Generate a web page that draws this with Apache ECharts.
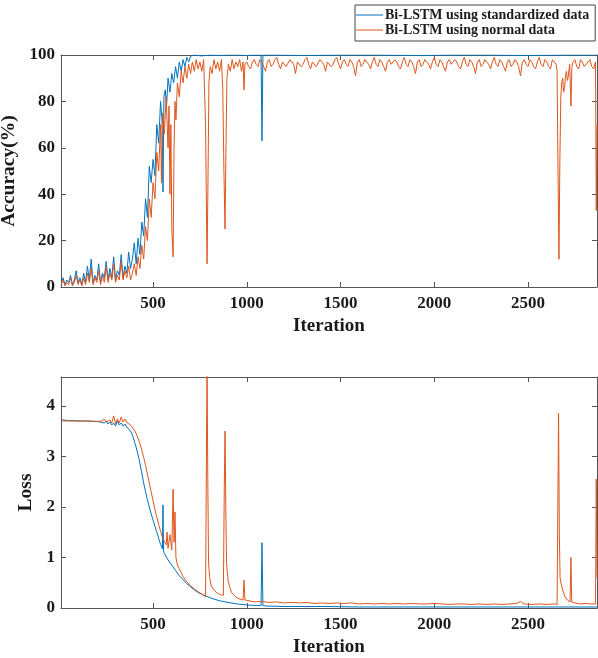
<!DOCTYPE html>
<html>
<head>
<meta charset="utf-8">
<script src="https://cdn.jsdelivr.net/npm/echarts@6/dist/echarts.min.js"></script>
<style>html,body{margin:0;padding:0;background:#fff;}#chart{width:598px;height:658px;}</style>
</head>
<body>
<div id="chart"></div>
<script>
// iteration ticks
var xTicks = [500, 1000, 1500, 2000, 2500];
var seriesNames = ['Bi-LSTM using standardized data', 'Bi-LSTM using normal data'];

// accuracy (%) - standardized data  [iteration, value]
var accStd = [
 [10,2],[20,4],[30,1],[40,3],[50,2],[60,5],[70,1],[80,3],[90,7],[100,2],[110,4],[120,1],[130,6],[140,2],[150,9],[160,3],[170,12],[180,2],[190,5],[200,3],
 [210,10],[220,2],[230,6],[240,4],[250,11],[260,3],[270,8],[280,4],[290,13],[300,3],[310,7],[320,5],[330,14],[340,4],[350,9],[360,6],[370,15],[380,8],[390,12],[400,19],
 [410,10],[420,21],[430,14],[440,28],[450,22],[460,38],[470,30],[480,52],[490,45],[500,55],[510,48],[520,70],[530,62],[540,80],[548,72],[553,41],[558,82],[565,85],[572,78],[580,90],
 [590,84],[600,92],[610,88],[620,95],[630,90],[640,97],[650,93],[660,98],[670,95],[680,99],[690,97],[700,99.5],[720,100],[760,99.6],[800,100],[850,99.8],[900,100],[950,100],[1000,99.8],[1050,100],
 [1076,100],[1081,63],[1086,100],[1150,100],[1300,99.8],[1500,100],[1700,100],[1900,99.8],[2100,100],[2300,100],[2500,99.8],[2700,100],[2868,100]
];
// accuracy (%) - normal data
var accNorm = [
 [10,1],[20,3],[30,0.5],[40,2],[50,1],[60,4],[70,0.5],[80,2],[90,5],[100,1],[110,3],[120,0.5],[130,4],[140,1],[150,6],[160,2],[170,8],[180,1],[190,4],[200,2],
 [210,7],[220,1],[230,5],[240,2],[250,9],[260,2],[270,6],[280,3],[290,10],[300,2],[310,5],[320,3],[330,11],[340,3],[350,7],[360,4],[370,9],[380,3],[390,6],[400,10],
 [410,5],[420,13],[430,8],[440,18],[450,12],[460,26],[470,20],[480,38],[490,30],[500,45],[510,38],[520,58],[530,50],[540,70],[545,45],[550,75],[560,66],[570,82],[580,60],[585,78],
 [590,40],[595,70],[600,25],[607,13],[612,60],[617,80],[622,72],[630,88],[640,82],[650,93],[660,88],[670,95],[680,90],[690,96],[700,92],[710,97],[720,93],[730,98],[740,94],[750,97],
 [760,93],[770,98],[780,70],[788,10],[793,45],[798,88],[805,95],[815,92],[825,98],[835,94],[845,97],[855,93],[865,98],[872,85],[878,50],[884,25],[889,60],[894,90],[902,96],[912,93],
 [922,98],[932,94],[942,97],[952,95],[962,98],[972,93],[980,97],[985,85],[990,96],[1000,97],[1010,95],[1020,94],[1030,97],[1040,98],[1050,96],[1060,95],[1070,98],[1080,97],[1090,95],[1100,93],
 [1110,97],[1120,98],[1130,95],[1140,96],[1150,98],[1160,99],[1170,96],[1180,94],[1190,97],[1200,97],[1210,95],[1220,95],[1230,98],[1240,98],[1250,96],[1260,92],[1270,97],[1280,97],[1290,95],[1300,96],
 [1310,98],[1320,99],[1330,96],[1340,94],[1350,97],[1360,97],[1370,95],[1380,95],[1390,98],[1400,98],[1410,96],[1420,93],[1430,97],[1440,97],[1450,95],[1460,96],[1470,98],[1480,99],[1490,96],[1500,94],
 [1510,97],[1520,98],[1530,96],[1540,95],[1550,98],[1560,97],[1570,95],[1580,91],[1590,97],[1600,98],[1610,95],[1620,96],[1630,98],[1640,97],[1650,96],[1660,94],[1670,97],[1680,99],[1690,96],[1700,95],
 [1710,98],[1720,97],[1730,95],[1740,93],[1750,97],[1760,98],[1770,96],[1780,96],[1790,98],[1800,97],[1810,95],[1820,94],[1830,97],[1840,99],[1850,96],[1860,95],[1870,98],[1880,97],[1890,95],[1900,92],
 [1910,97],[1920,98],[1930,95],[1940,96],[1950,98],[1960,97],[1970,96],[1980,94],[1990,97],[2000,99],[2010,96],[2020,95],[2030,98],[2040,97],[2050,95],[2060,93],[2070,97],[2080,98],[2090,96],[2100,96],
 [2110,98],[2120,97],[2130,95],[2140,94],[2150,97],[2160,99],[2170,96],[2180,95],[2190,98],[2200,97],[2210,95],[2220,92],[2230,97],[2240,98],[2250,95],[2260,96],[2270,98],[2280,97],[2290,96],[2300,94],
 [2310,97],[2320,99],[2330,96],[2340,95],[2350,98],[2360,97],[2370,95],[2380,93],[2390,97],[2400,98],[2410,95],[2420,96],[2430,98],[2440,97],[2450,95],[2460,91],[2470,97],[2480,98],[2490,96],[2500,95],
 [2510,98],[2520,97],[2530,95],[2540,94],[2550,97],[2560,99],[2570,96],[2580,95],[2590,98],[2600,97],[2610,95],[2620,94],[2630,98],[2640,97],[2650,96],[2655,93],[2660,50],[2665,12],[2670,55],[2675,82],
 [2680,88],[2685,90],[2690,84],[2695,86],[2700,91],[2705,93],[2710,89],[2715,91],[2722,96],[2729,78],[2734,95],[2740,97],[2750,98],[2760,95],[2770,94],[2780,98],[2790,97],[2800,95],[2810,95],[2820,97],
 [2830,98],[2840,95],[2850,94],[2860,97],[2864,33],[2868,70]
];
// loss - standardized data
var lossStd = [
 [10,3.72],[50,3.71],[100,3.70],[150,3.70],[200,3.69],[220,3.68],[240,3.66],[250,3.70],[260,3.64],[270,3.68],[280,3.62],[290,3.66],[300,3.60],[310,3.70],[320,3.62],[330,3.66],[340,3.60],[350,3.64],[360,3.58],[370,3.56],
 [380,3.50],[390,3.42],[400,3.30],[410,3.18],[420,3.03],[430,2.86],[440,2.67],[450,2.47],[460,2.30],[470,2.14],[480,2.00],[490,1.86],[500,1.74],[510,1.62],[520,1.50],[530,1.38],[540,1.26],[550,1.17],[553,2.04],[556,1.13],
 [560,1.08],[580,0.95],[600,0.85],[620,0.74],[640,0.64],[660,0.56],[680,0.48],[700,0.42],[720,0.36],[740,0.31],[760,0.27],[780,0.24],[800,0.21],[830,0.17],[860,0.14],[900,0.11],[950,0.08],[1000,0.06],[1050,0.05],[1076,0.05],
 [1081,1.29],[1086,0.05],[1100,0.04],[1200,0.03],[1400,0.03],[1600,0.02],[1800,0.02],[2000,0.02],[2200,0.02],[2400,0.02],[2600,0.02],[2868,0.02]
];
// loss - normal data
var lossNorm = [
 [10,3.75],[20,3.70],[50,3.70],[100,3.70],[150,3.70],[200,3.69],[230,3.70],[240,3.74],[250,3.68],[270,3.72],[280,3.66],[290,3.80],[300,3.65],[310,3.74],[320,3.66],[330,3.78],[340,3.68],[350,3.74],[360,3.67],[370,3.70],
 [380,3.62],[390,3.60],[400,3.52],[410,3.45],[420,3.36],[430,3.25],[440,3.12],[450,2.98],[460,2.82],[470,2.65],[480,2.47],[490,2.30],[500,2.12],[510,1.95],[520,1.80],[530,1.65],[540,1.52],[550,1.40],[560,1.32],[570,1.25],
 [575,1.50],[580,1.18],[590,1.45],[600,1.15],[607,2.35],[612,1.30],[617,1.90],[622,1.00],[630,0.85],[640,0.78],[650,0.70],[660,0.62],[680,0.52],[700,0.44],[720,0.38],[740,0.32],[760,0.28],[780,0.22],[788,4.8],[792,2.6],
 [796,0.9],[802,0.6],[810,0.45],[820,0.38],[840,0.30],[860,0.26],[875,0.25],[880,2.4],[884,3.5],[888,2.0],[892,0.9],[900,0.55],[910,0.40],[920,0.30],[940,0.22],[960,0.18],[980,0.16],[985,0.55],[990,0.16],[1000,0.14],
 [1040,0.12],[1080,0.13],[1120,0.11],[1160,0.12],[1200,0.10],[1240,0.11],[1280,0.10],[1320,0.11],[1360,0.09],[1400,0.10],[1440,0.09],[1480,0.10],[1520,0.09],[1560,0.10],[1600,0.08],[1640,0.09],[1680,0.08],[1720,0.09],[1760,0.08],[1800,0.09],
 [1840,0.08],[1880,0.09],[1920,0.08],[1960,0.08],[2000,0.09],[2040,0.08],[2080,0.07],[2120,0.08],[2160,0.08],[2200,0.07],[2240,0.08],[2280,0.07],[2320,0.08],[2360,0.07],[2400,0.08],[2440,0.09],[2460,0.13],[2480,0.08],[2520,0.07],[2560,0.08],
 [2600,0.07],[2640,0.08],[2655,0.07],[2663,3.85],[2667,1.5],[2671,0.6],[2678,0.45],[2688,0.32],[2698,0.22],[2712,0.15],[2724,0.12],[2729,1.0],[2733,0.12],[2750,0.10],[2780,0.08],[2810,0.09],[2840,0.08],[2860,0.08],[2864,2.55],[2868,0.6]
];

var FONT = 'Liberation Serif', AXC = '#555', TXC = '#1a1a1a';
var colors = ['#0072BD', '#DD561E'];

function xAx(g, pos){
	var bottom = pos == 'bottom';
	return {type:'value', gridIndex:g, position:pos, min:9, max:2868,
		axisLine:{show:true, onZero:false, lineStyle:{color:AXC, width:1}},
		axisTick:{show:true, inside:true, length:5, customValues:xTicks, lineStyle:{color:AXC}},
		axisLabel:{show:bottom, customValues:xTicks, margin:8, formatter:function(v){return String(v);},
			fontFamily:FONT, fontWeight:'bold', fontSize:17, color:TXC},
		splitLine:{show:false},
		name: bottom ? 'Iteration' : '', nameLocation:'middle', nameGap:30,
		nameTextStyle:{fontFamily:FONT, fontWeight:'bold', fontSize:19, color:TXC}};
}
function yAx(g, pos, max, iv, name, gap){
	var left = pos == 'left';
	return {type:'value', gridIndex:g, position:pos, min:0, max:max, interval:iv,
		axisLine:{show:true, onZero:false, lineStyle:{color:AXC, width:1}},
		axisTick:{show:true, inside:true, length:5, lineStyle:{color:AXC}},
		axisLabel:{show:left, showMaxLabel: max == 100, margin:6, fontFamily:FONT, fontWeight:'bold', fontSize:17, color:TXC},
		splitLine:{show:false},
		name: left ? name : '', nameLocation:'middle', nameGap:gap, nameRotate:90,
		nameTextStyle:{fontFamily:FONT, fontWeight:'bold', fontSize:19.5, color:TXC}};
}
function ln(name, data, g, c){
	return {name:name, type:'line', data:data, xAxisIndex:g*2, yAxisIndex:g*2, showSymbol:false, symbol:'none',
		lineStyle:{width:1, color:c}, itemStyle:{color:c}, clip:true, animation:false};
}

var chart = echarts.init(document.getElementById('chart'), null, {renderer:'canvas'});
var option = {
	animation:false,
	backgroundColor:'#fff',
	grid:[{left:61, right:1, top:55, height:232, outerBoundsMode:'none'}, {left:61, right:1, top:377, height:231, outerBoundsMode:'none'}],
	legend:{data:seriesNames, orient:'vertical', left:355, top:5, width:240, itemGap:1,
		icon:'rect', itemWidth:27, itemHeight:1, padding:[3, 6, 4, 1],
		backgroundColor:'#fff', borderColor:'#444', borderWidth:1,
		textStyle:{fontFamily:FONT, fontWeight:'bold', fontSize:14, color:TXC, padding:[0,0,0,-3]}},
	xAxis:[xAx(0,'bottom'), xAx(0,'top'), xAx(1,'bottom'), xAx(1,'top')],
	yAxis:[yAx(0,'left',100,20,'Accuracy(%)',33), yAx(0,'right',100,20,''), yAx(1,'left',4.57,1,'Loss',16), yAx(1,'right',4.57,1,'')],
	series:[
		ln(seriesNames[0], accStd, 0, colors[0]),
		ln(seriesNames[1], accNorm, 0, colors[1]),
		ln(seriesNames[0], lossStd, 1, colors[0]),
		ln(seriesNames[1], lossNorm, 1, colors[1])
	]
};
chart.setOption(option);
</script>
</body>
</html>
